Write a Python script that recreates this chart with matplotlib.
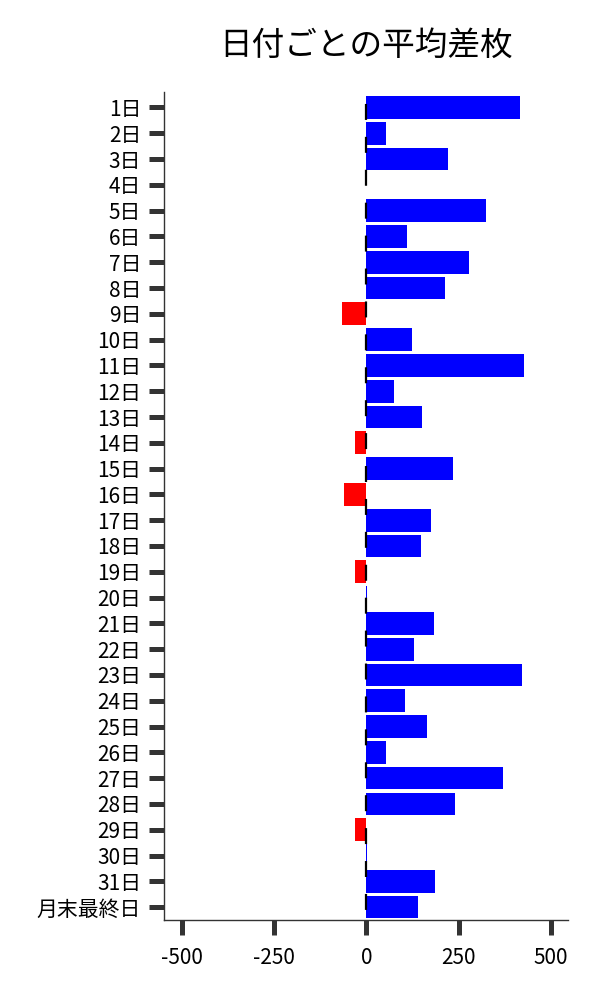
import matplotlib
matplotlib.use('Agg')
import matplotlib.pyplot as plt

plt.rcParams['font.family'] = ['Noto Sans CJK JP', 'DejaVu Sans']
plt.rcParams['lines.scale_dashes'] = False

# 日付ごとの平均差枚
days = [f'{d}日' for d in range(1, 32)] + ['月末最終日']
diff = [416, 52, 222, 0, 325, 111, 279, 214, -65, 125,
        428, 76, 152, -32, 236, -60, 176, 148, -32, 1.5,
        184, 130, 422, 106, 163, 54, 371, 241, -30, 1,
        187, 141]

colors = ['blue' if v >= 0 else 'red' for v in diff]
pos = list(range(len(days)))

fig = plt.figure(figsize=(6, 10), dpi=100)
ax = fig.add_axes([0.273, 0.08, 0.674, 0.828])

ax.barh(pos, diff, height=0.88, color=colors, zorder=2)
# dashed zero line
ax.plot([0, 0], [-0.6, len(days) - 0.5], color='black', lw=1.6,
        linestyle=(15.1, (11.5, 12.2)), zorder=3)

ax.set_yticks(pos)
ax.set_yticklabels(days)
ax.set_ylim(len(days) - 0.5, -0.6)
ax.set_xlim(-549, 547)
ax.set_xticks([-500, -250, 0, 250, 500])
ax.set_xticklabels(['-500', '-250', '0', '250', '500'])

ax.tick_params(axis='both', length=10.8, width=3.6, color='#333333',
               labelsize=15)
ax.tick_params(axis='y', pad=5.5)
ax.tick_params(axis='x', pad=8.5)
for s in ['top', 'right']:
    ax.spines[s].set_visible(False)
for s in ['left', 'bottom']:
    ax.spines[s].set_color('#333333')
    ax.spines[s].set_linewidth(1)

ax.set_title('日付ごとの平均差枚', fontsize=23.5, pad=27)

fig.savefig('out.png', dpi=100)
